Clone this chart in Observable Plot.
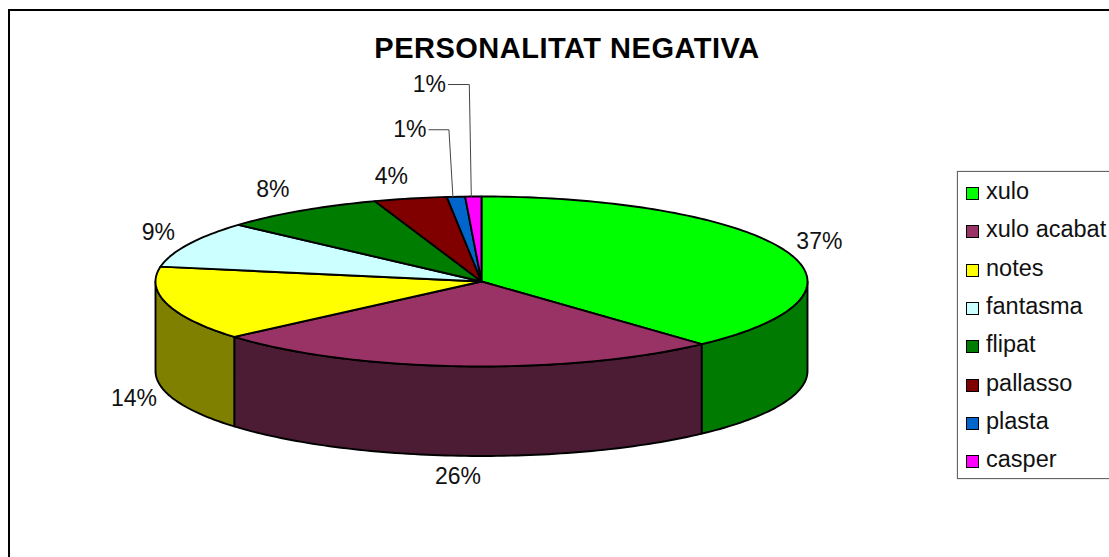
<!DOCTYPE html>
<html>
<head>
<meta charset="utf-8">
<script src="https://cdn.jsdelivr.net/npm/d3@7"></script>
<script src="https://cdn.jsdelivr.net/npm/@observablehq/plot@0.6"></script>
<style>
  html, body { margin: 0; padding: 0; background: #fff; overflow: hidden; width: 1109px; height: 557px; }
  #root { position: relative; width: 1109px; height: 557px; overflow: hidden; font-family: "Liberation Sans", Arial, sans-serif; color: #111; }
  #root svg { position: absolute; left: 0; top: 0; background: transparent; }
  #frame { position: absolute; left: 8px; top: 8.5px; width: 1200px; height: 700px; border: 2px solid #000; }
  #title { position: absolute; left: 267px; width: 600px; top: 29.5px; text-align: center; font-weight: bold; font-size: 29px; line-height: 36px; letter-spacing: 0.5px; color: #000; }
  #legend { position: absolute; left: 957px; top: 171px; width: 200px; height: 306px; border: 1px solid #666; box-shadow: 0 0 1px #888; background: #fff; }
  .row { position: absolute; left: 8px; height: 38px; line-height: 38px; font-size: 23.5px; white-space: nowrap; }
  .swatch { display: inline-block; width: 11px; height: 11px; border: 1.5px solid #000; margin-right: 7px; vertical-align: -1px; }
</style>
</head>
<body>
<div id="root"></div>
<script>
const categories = ["xulo", "xulo acabat", "notes", "fantasma", "flipat", "pallasso", "plasta", "casper"];
const values = [38.2, 25.5, 14.1, 8.8, 8.1, 3.6, 0.9, 0.8];
const percentLabels = ["37%", "26%", "14%", "9%", "8%", "4%", "1%", "1%"];
const topColors = ["#00ff00", "#993366", "#ffff00", "#ccffff", "#007d00", "#800000", "#0066cc", "#ff00ff"];
const sideColors = ["#007a00", "#4c1c35", "#808000", "#668080", "#004000", "#400000", "#003366", "#800080"];
const titleText = "PERSONALITAT NEGATIVA";

// layout of the tilted disc and its labels (chart units are pixels along each radius)
const radiusX = 326, radiusY = 85, depth = 89.5;
const labelDx = [34, -4, -33, -30, -28, -19, -46, -44];
const labelDy = [-9, 110, 95, -12, -21, -22, -67, -112];
const leaderAttachDx = [0, 0, 0, 0, 0, 0, -3, -2];
const leaderElbowDx = [0, 0, 0, 0, 0, 0, -4, -2];
const leaderFor = [false, false, false, false, false, false, true, true];

const rim = (a, drop = 0) => ({x: radiusX * Math.sin(a), y: -radiusY * Math.cos(a) + drop});
const arcs = d3.pie().sort(null).value(d => d)(values);

function arcPoints(a0, a1, drop = 0) {
  const n = Math.max(2, Math.ceil((a1 - a0) / 0.02));
  return d3.range(n + 1).map(i => rim(a0 + (a1 - a0) * i / n, drop));
}

const tops = arcs.flatMap((arc, i) =>
  [{x: 0, y: 0}, ...arcPoints(arc.startAngle, arc.endAngle), {x: 0, y: 0}]
    .map(p => ({...p, name: categories[i]})));

const sides = arcs.flatMap((arc, i) => {
  const a0 = Math.max(arc.startAngle, Math.PI / 2);
  const a1 = Math.min(arc.endAngle, Math.PI * 3 / 2);
  if (a1 <= a0) return [];
  const upper = arcPoints(a0, a1);
  const lower = arcPoints(a0, a1, depth).reverse();
  return [...upper, ...lower, upper[0]].map(p => ({...p, name: categories[i] + " side"}));
});

const labels = arcs.map((arc, i) => {
  const p = rim((arc.startAngle + arc.endAngle) / 2);
  return {
    i,
    rim: p,
    x: p.x + labelDx[i],
    y: p.y + labelDy[i],
    text: percentLabels[i],
    name: categories[i]
  };
});

const leaders = labels.filter(d => leaderFor[d.i]).flatMap(d => [
  {x: d.rim.x + leaderAttachDx[d.i], y: d.rim.y, name: d.name},
  {x: d.rim.x + leaderAttachDx[d.i] + leaderElbowDx[d.i], y: d.y, name: d.name},
  {x: d.x + 19, y: d.y, name: d.name}
]);

const chart = Plot.plot({
  width: 1109,
  height: 557,
  margin: 0,
  x: {domain: [-radiusX, radiusX], range: [155, 807], axis: null},
  y: {domain: [-radiusY, radiusY], range: [196, 366], axis: null},
  color: {
    domain: [...categories, ...categories.map(c => c + " side")],
    range: [...topColors, ...sideColors]
  },
  style: {background: "transparent", fontFamily: "'Liberation Sans', Arial, sans-serif"},
  marks: [
    Plot.line(sides, {x: "x", y: "y", z: "name", fill: "name", stroke: "#000", strokeWidth: 1.9, curve: "linear"}),
    Plot.line(tops, {x: "x", y: "y", z: "name", fill: "name", stroke: "#000", strokeWidth: 1.9, curve: "linear"}),
    Plot.line(leaders, {x: "x", y: "y", z: "name", stroke: "#444", strokeWidth: 1, curve: "linear"}),
    Plot.text(labels, {x: "x", y: "y", text: "text", fontSize: 23, fill: "#111", textAnchor: "middle", lineAnchor: "middle"})
  ]
});

const root = document.getElementById("root");
const frame = document.createElement("div");
frame.id = "frame";
root.appendChild(frame);
root.appendChild(chart);
const title = document.createElement("div");
title.id = "title";
title.textContent = titleText;
root.appendChild(title);
const legend = document.createElement("div");
legend.id = "legend";
categories.forEach((c, i) => {
  const row = document.createElement("div");
  row.className = "row";
  row.style.top = (i * 38.35) + "px";
  const sw = document.createElement("span");
  sw.className = "swatch";
  sw.style.background = topColors[i];
  row.appendChild(sw);
  row.appendChild(document.createTextNode(c));
  legend.appendChild(row);
});
root.appendChild(legend);
</script>
</body>
</html>
